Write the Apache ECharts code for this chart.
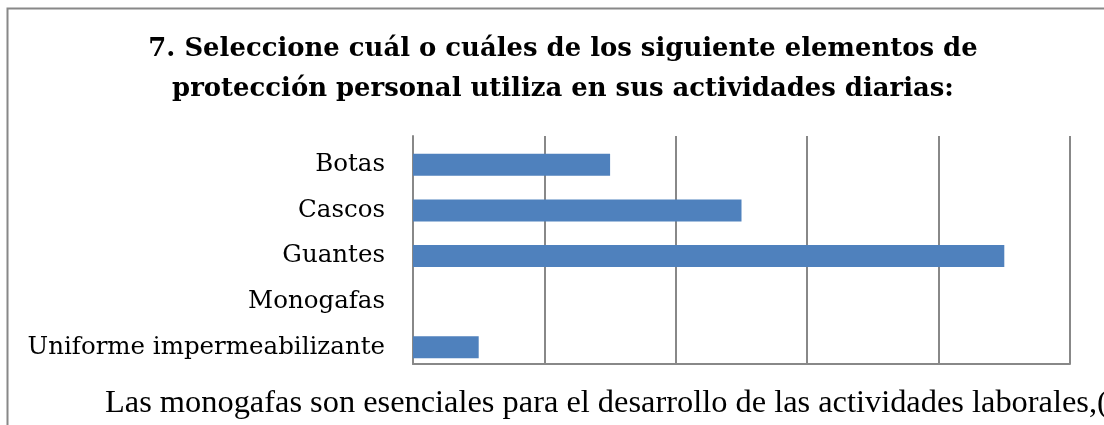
<!DOCTYPE html>
<html>
<head>
<meta charset="utf-8">
<script src="https://cdn.jsdelivr.net/npm/echarts@6/dist/echarts.min.js"></script>
<style>
html,body{margin:0;padding:0;background:#fff;}
#c{width:1104px;height:425px;}
</style>
</head>
<body>
<div id="c"></div>
<script>
const titleLines = ["7. Seleccione cuál o cuáles de los siguiente elementos de", "protección personal utiliza en sus actividades diarias:"];
const categories = ["Botas", "Cascos", "Guantes", "Monogafas", "Uniforme impermeabilizante"];
const values = [3, 5, 9, 0, 1];
const spacerValues = [0, 0, 0, 0, 0];
const axisMin = 0, axisMax = 10, axisInterval = 2;
const footText = "Las monogafas son esenciales para el desarrollo de las actividades laborales,(";

const chart = echarts.init(document.getElementById('c'), null, {renderer: 'canvas'});
chart.setOption({
  animation: false,
  backgroundColor: '#fff',
  title: {
    text: titleLines.join('\n'),
    left: 558, textAlign: 'center', top: 24,
    textStyle: {fontFamily: 'DejaVu Serif', fontWeight: 'bold', fontSize: 25.9, lineHeight: 40, color: '#000'}
  },
  grid: {left: 413, right: 34, top: 136, bottom: 61, containLabel: false},
  xAxis: {
    type: 'value', min: axisMin, max: axisMax, interval: axisInterval,
    axisLabel: {show: false}, axisTick: {show: false},
    axisLine: {show: true, lineStyle: {color: '#888', width: 2}},
    splitLine: {show: true, lineStyle: {color: '#888', width: 2}}
  },
  yAxis: {
    type: 'category', data: categories, inverse: true,
    axisLine: {show: true, lineStyle: {color: '#888', width: 2}},
    axisTick: {show: false},
    axisLabel: {fontFamily: 'DejaVu Serif', fontSize: 24.5, color: '#000', margin: 28, verticalAlign: 'top', lineHeight: 12}
  },
  series: [
    {type: 'bar', data: spacerValues, barWidth: 22, barGap: '-45%', itemStyle: {color: 'rgba(0,0,0,0)'}, silent: true},
    {type: 'bar', data: values, barWidth: 22, barGap: '-45%', itemStyle: {color: '#4F81BD'}}
  ],
  graphic: [
    {type: 'rect', shape: {x: 7.5, y: 8.5, width: 1200, height: 600}, style: {fill: 'none', stroke: '#888', lineWidth: 2}, z: -1},
    {type: 'text', left: 105, top: 387, style: {text: footText, font: '32.4px "Liberation Serif"', fill: '#000'}}
  ]
});
</script>
</body>
</html>
